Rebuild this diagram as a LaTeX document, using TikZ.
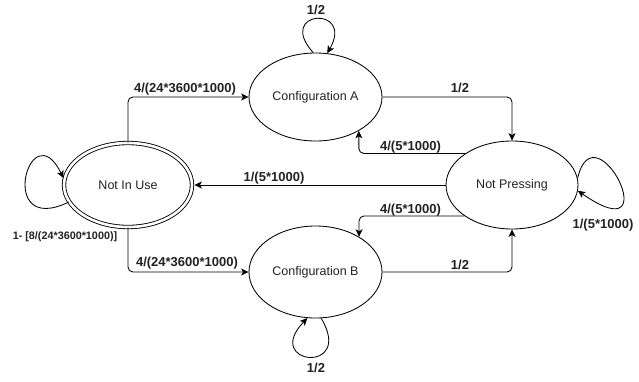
\documentclass[tikz,border=0pt]{standalone}
\usepackage{fontspec}
\setmainfont{Liberation Sans}
\usetikzlibrary{arrows.meta,shapes.geometric}
\definecolor{txt}{HTML}{222222}
\begin{document}
\begin{tikzpicture}[x=1pt,y=-1pt, line width=0.85pt,
  state/.style={ellipse, draw, inner sep=0pt, minimum width=133pt, minimum height=88pt, text=txt, font=\fontsize{12.5}{15}\selectfont},
  lbl/.style={font=\fontsize{13}{15}\selectfont\bfseries, text=txt, inner sep=0pt},
  arr/.style={-{Stealth[length=7.5pt,width=7pt,inset=2pt]}},
  ortho/.style={arr, rounded corners=5pt}]
\useasboundingbox (0,0) rectangle (639,381);
\node[state, double, double distance=2.6pt, minimum width=128pt, minimum height=84pt] (NIU) at (128,185) {Not In Use};
\node[state] (A) at (315.5,97) {Configuration A};
\node[state, minimum height=92pt] (B) at (315.5,272) {Configuration B};
\node[state, minimum width=132pt] (NP) at (512,185) {Not Pressing};

\draw[ortho] (NIU.north) |- (A.west);
\draw[ortho] (NIU.south) |- (B.west);
\draw[ortho] (A.east) -| (NP.north);
\draw[ortho] (NP.146.5) -| (A.-38.5);
\draw[ortho] (NP.213.5) -| (B.39.8);
\draw[ortho] (B.east) -| (NP.south);
\draw[arr, shorten >=2pt] (NP.west) -- (NIU.east);

\draw[arr] (A.93) .. controls (275,10) and (355,5) .. (A.75);
\draw[arr] (B.-83) .. controls (355,375) and (262,365) .. (B.-100);
\draw[arr] (NP.6) .. controls (595,105) and (670,255) .. (NP.-5);
\draw[arr, shorten >=1.5pt] (NIU.196) .. controls (-5,238) and (30,110) .. (NIU.175.5);

\node[lbl] (l1) at (185,89) {4/(24*3600*1000)};
\node[lbl] (l2) at (187,263) {4/(24*3600*1000)};
\node[lbl] (l3) at (460,88) {1/2};
\node[lbl] (l4) at (410.5,147) {4/(5*1000)};
\node[lbl] (l5) at (274,178) {1/(5*1000)};
\node[lbl] (l6) at (410.5,210) {4/(5*1000)};
\node[lbl] (l7) at (460,265) {1/2};
\node[lbl] (l8) at (316,10) {1/2};
\node[lbl] (l9) at (316,368) {1/2};
\node[lbl] (l10) at (603,225.5) {1/(5*1000)};
\node[lbl, font=\fontsize{10.8}{13}\selectfont\bfseries] (l11) at (65,237) {1- [8/(24*3600*1000)]};
\end{tikzpicture}
\end{document}
